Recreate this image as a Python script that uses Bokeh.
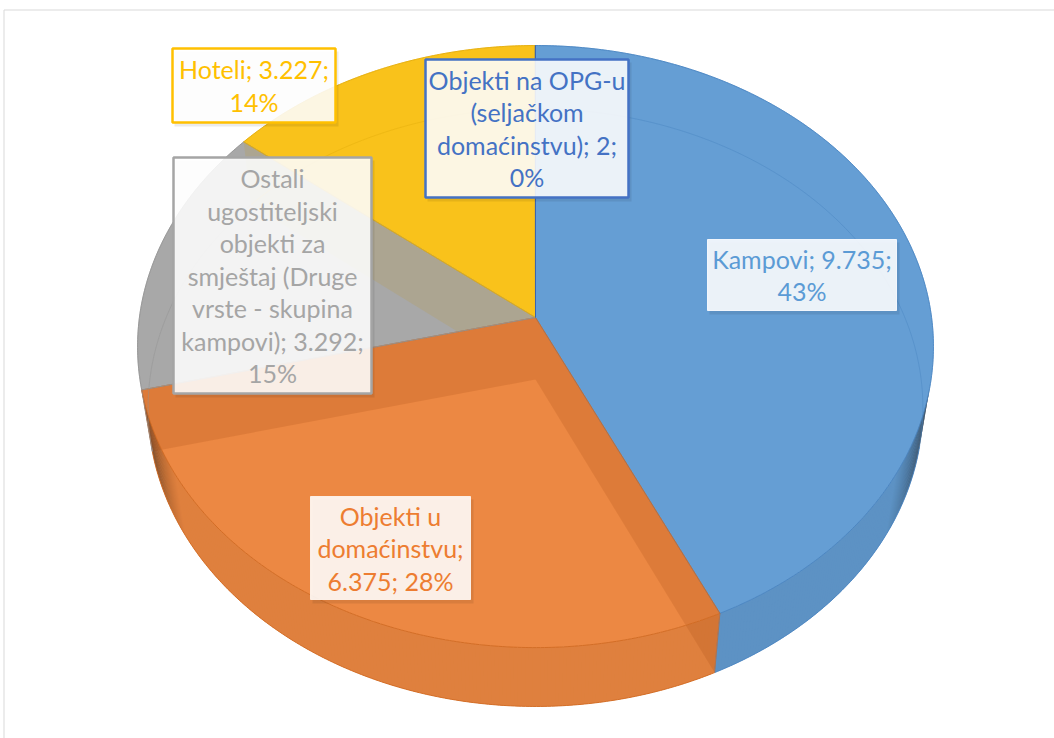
import math
from bokeh.plotting import figure
from bokeh.models import Range1d
from bokeh.embed import file_html
from bokeh.resources import INLINE
from bokeh.core.properties import value

# ---------------- data ----------------
categories = [
    "Kampovi",
    "Objekti u domaćinstvu",
    "Ostali ugostiteljski objekti za smještaj (Druge vrste - skupina kampovi)",
    "Hoteli",
    "Objekti na OPG-u (seljačkom domaćinstvu)",
]
values = [9735, 6375, 3292, 3227, 2]
label_lines = [
    ["Kampovi; 9.735;", "43%"],
    ["Objekti u", "domaćinstvu;", "6.375; 28%"],
    ["Ostali", "ugostiteljski", "objekti za", "smještaj (Druge", "vrste - skupina", "kampovi); 3.292;", "15%"],
    ["Hoteli; 3.227;", "14%"],
    ["Objekti na OPG-u", "(seljačkom", "domaćinstvu); 2;", "0%"],
]

# ---------------- styles ----------------
top_colors = ["#659ED4", "#EC8843", "#A8A8A8", "#F9C21B", "#4472C4"]
side_colors = ["#5D92C4", "#DF803E", "#9C9C9C", "#E8B418", "#3F69B5"]
edge_colors = ["#4A85C2", "#D26A22", "#939393", "#E3AD0E", "#3A64B0"]
text_colors = ["#5B9BD5", "#ED7D31", "#A5A5A5", "#FFC000", "#4472C4"]
box_line_colors = ["#F2F6FC", "#FCEFE6", "#A5A5A5", "#FFC000", "#4472C4"]
box_line_widths = [1, 1, 2.5, 2.5, 2.5]
# label boxes: left, top, right, bottom (page pixels)
label_boxes = [
    (707, 239, 896, 310),
    (310, 496, 470, 599),
    (173, 157, 371, 393),
    (172, 48, 335, 122),
    (425, 59, 628, 197),
]
# visible inner walls: (boundary after slice k, owner slice, tint)
wall_specs = [(0, 1, "#A64C16"), (1, 1, "#A64C16"), (2, 2, "#BC9935")]

# ---------------- 3D projection ----------------
D = 6.817
CA = 0.658
SA = 0.753
F = 2700.0
T = 0.2443
CX, CY = 535.0, 317.0
SIL = 1.0 / (D * CA)  # silhouette: side visible where -cos(theta) > SIL


def proj_uvz(u, w, z):
    d = D - w * CA - z * SA
    X = F * u / d
    Yup = (-w * SA + z * CA) * F / d
    return CX + X, CY - Yup


def rim(th_deg, z=0.0):
    th = math.radians(th_deg)
    return proj_uvz(math.sin(th), -math.cos(th), z)


def arange(a, b, step=0.5):
    pts = [a]
    x = a
    while x + step < b:
        x += step
        pts.append(x)
    pts.append(b)
    return pts


def hex_rgb(h):
    h = h.lstrip("#")
    return tuple(int(h[i:i + 2], 16) for i in (0, 2, 4))


def rgb_hex(c):
    return "#%02x%02x%02x" % tuple(max(0, min(255, int(round(v)))) for v in c)


def clip_half(poly, a, b, keep):
    def side(p):
        return (b[0] - a[0]) * (p[1] - a[1]) - (b[1] - a[1]) * (p[0] - a[0])
    sk = 1 if side(keep) > 0 else -1
    out = []
    n = len(poly)
    for i in range(n):
        P, Q = poly[i], poly[(i + 1) % n]
        sp, sq = side(P) * sk, side(Q) * sk
        if sp >= 0:
            out.append(P)
        if (sp > 0 and sq < 0) or (sp < 0 and sq > 0):
            t = sp / (sp - sq)
            out.append((P[0] + t * (Q[0] - P[0]), P[1] + t * (Q[1] - P[1])))
    return out


total = float(sum(values))
bounds = [0.0]
for v in values:
    bounds.append(bounds[-1] + 360.0 * v / total)
starts, ends = bounds[:-1], bounds[1:]

apex_top = proj_uvz(0, 0, 0)
apex_bot = proj_uvz(0, 0, -T)

# ---------------- figure ----------------
p = figure(width=1054, height=738, x_range=Range1d(0, 1054), y_range=Range1d(738, 0),
           output_backend="svg", toolbar_location=None, tools="", min_border=0,
           x_axis_location=None, y_axis_location=None)
p.grid.visible = False
p.outline_line_color = None
p.background_fill_color = "white"
p.border_fill_color = "white"

# chart area border
p.quad(left=[3.5], right=[1200], top=[9.5], bottom=[900], fill_color=None,
       line_color="#D9D9D9", line_width=1)

# top faces (opaque)
for i in range(len(values)):
    pts = [apex_top] + [rim(a) for a in arange(starts[i], ends[i])]
    p.patch([q[0] for q in pts], [q[1] for q in pts], fill_color=top_colors[i],
            line_color=top_colors[i], line_width=0.5)

# outer side walls with shading (overlapping strips, no strokes -> no seams)
lo = math.degrees(math.acos(-SIL))
hi = 360.0 - lo
sx, sy, sc = [], [], []
for i in range(len(values)):
    a0, a1 = max(starts[i], lo), min(ends[i], hi)
    if a1 <= a0:
        continue
    base = hex_rgb(side_colors[i])
    angs = arange(a0, a1, 0.5)
    for k in range(len(angs) - 1):
        t0, t1 = angs[k], min(angs[k + 1] + 0.45, a1)
        tm = 0.5 * (angs[k] + angs[k + 1])
        g = (-math.cos(math.radians(tm)) - SIL) / 0.28
        g = max(0.0, min(1.0, g))
        f = 0.30 + 0.70 * g ** 0.7
        quad = [rim(t0), rim(t1), rim(t1, -T), rim(t0, -T)]
        sx.append([q[0] for q in quad])
        sy.append([q[1] for q in quad])
        sc.append(rgb_hex([c * f for c in base]))
p.patches(sx, sy, fill_color=sc, line_color=None)

# inner radial walls seen through the translucent faces
for k, owner, tint in wall_specs:
    th = ends[k]
    quad = [apex_top, rim(th), rim(th, -T), apex_bot]
    mid = rim(0.5 * (starts[owner] + ends[owner]))
    quad = clip_half(quad, apex_top, rim(starts[owner]), mid)
    quad = clip_half(quad, apex_top, rim(ends[owner]), mid)
    if len(quad) >= 3:
        p.patch([q[0] for q in quad], [q[1] for q in quad], fill_color=tint,
                fill_alpha=0.2, line_color=None)

# faint back rim of the bottom seen through
for i in range(len(values)):
    for (a0, a1) in [(starts[i], min(ends[i], lo)), (max(starts[i], hi), ends[i])]:
        if a1 - a0 < 0.5:
            continue
        pts = [rim(a, -T) for a in arange(a0, a1)]
        p.line([q[0] for q in pts], [q[1] for q in pts], line_color=edge_colors[i],
               line_alpha=0.45, line_width=1)

# outlines of top faces
for i in range(len(values)):
    pts = [apex_top] + [rim(a) for a in arange(starts[i], ends[i])] + [apex_top]
    p.line([q[0] for q in pts], [q[1] for q in pts], line_color=edge_colors[i],
           line_width=1, line_alpha=0.9)

# side bottom edge + vertical edges
for i in range(len(values)):
    a0, a1 = max(starts[i], lo), min(ends[i], hi)
    if a1 <= a0:
        continue
    pts = [rim(a, -T) for a in arange(a0, a1)]
    p.line([q[0] for q in pts], [q[1] for q in pts], line_color=edge_colors[i],
           line_width=1, line_alpha=0.9)
    for a in (a0, a1):
        if lo < a < hi:
            q0, q1 = rim(a), rim(a, -T)
            p.line([q0[0], q1[0]], [q0[1], q1[1]], line_color=edge_colors[i],
                   line_width=1, line_alpha=0.7)

# ---------------- data labels ----------------
LINE_H = 32.5
for i in range(len(values)):
    l, t, r, b = label_boxes[i]
    p.quad(left=[l + 2], right=[r + 3], top=[t + 3], bottom=[b + 4],
           fill_color="black", fill_alpha=0.08, line_color=None)
    p.quad(left=[l], right=[r], top=[t], bottom=[b], fill_color="white", fill_alpha=0.88,
           line_color=box_line_colors[i], line_width=box_line_widths[i])
    lines = label_lines[i]
    n = len(lines)
    cx = 0.5 * (l + r)
    cy = 0.5 * (t + b)
    ys = [cy + (j - (n - 1) / 2.0) * LINE_H for j in range(n)]
    p.text(x=[cx] * n, y=ys, text=lines, text_align="center", text_baseline="middle",
           text_font=value("Lato"), text_font_size="25px", text_color=text_colors[i])

open("out.html", "w").write(file_html(p, INLINE))
